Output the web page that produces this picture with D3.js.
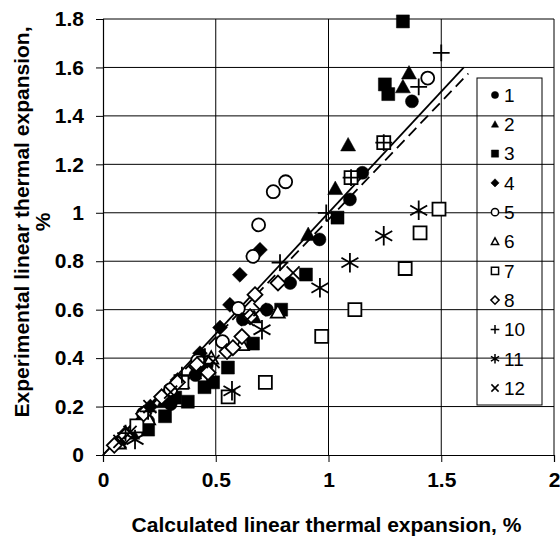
<!DOCTYPE html>
<html><head><meta charset="utf-8">
<script src="https://cdn.jsdelivr.net/npm/d3@7"></script>
<style>body{margin:0;background:#fff}svg{display:block}text{font-family:"Liberation Sans",Arial,sans-serif}</style>
</head><body><svg id="c" width="560" height="537"></svg>
<script>
const xTicks=[0,0.5,1,1.5,2];
const xTickLabels=["0","0.5","1","1.5","2"];
const yTicks=[0,0.2,0.4,0.6,0.8,1,1.2,1.4,1.6,1.8];
const yTickLabels=["0","0.2","0.4","0.6","0.8","1","1.2","1.4","1.6","1.8"];
const seriesNames=["1","2","3","4","5","6","7","8","10","11","12"];
const s1=[[0.08,0.06],[0.2,0.14],[0.3,0.21],[0.41,0.33],[0.46,0.37],[0.62,0.56],[0.727,0.6],[0.83,0.71],[0.96,0.89],[1.095,1.055],[1.15,1.165],[1.37,1.46]];
const s2=[[0.13,0.09],[0.27,0.22],[0.45,0.37],[0.67,0.57],[0.91,0.91],[1.03,1.1],[1.087,1.28],[1.33,1.52],[1.357,1.577]];
const s3=[[0.2,0.105],[0.275,0.16],[0.32,0.237],[0.376,0.22],[0.45,0.28],[0.488,0.3],[0.554,0.361],[0.665,0.46],[0.79,0.6],[0.9,0.745],[1.04,0.98],[1.25,1.53],[1.265,1.49],[1.33,1.79]];
const s4=[[0.1,0.09],[0.21,0.2],[0.33,0.31],[0.43,0.42],[0.519,0.526],[0.563,0.62],[0.607,0.744],[0.696,0.847]];
const s5=[[0.18,0.17],[0.3,0.27],[0.42,0.39],[0.53,0.468],[0.6,0.605],[0.665,0.82],[0.69,0.95],[0.755,1.087],[0.81,1.128],[1.44,1.556]];
const s6=[[0.07,0.05],[0.2,0.15],[0.35,0.3],[0.48,0.4],[0.616,0.456],[0.775,0.59]];
const s7=[[0.15,0.12],[0.35,0.3],[0.555,0.24],[0.72,0.3],[0.97,0.49],[1.117,0.6],[1.34,0.77],[1.406,0.917],[1.49,1.015],[1.1,1.145],[1.245,1.29]];
const s8=[[0.05,0.04],[0.1,0.08],[0.18,0.17],[0.26,0.24],[0.33,0.3],[0.417,0.373],[0.466,0.34],[0.55,0.427],[0.576,0.443],[0.616,0.489],[0.652,0.571],[0.674,0.662],[0.776,0.71]];
const s10=[[0.1,0.09],[0.2,0.18],[0.35,0.33],[0.452,0.406],[0.785,0.794],[0.99,1.0],[1.1,1.145],[1.245,1.29],[1.4,1.52],[1.5,1.66]];
const s11=[[0.142,0.064],[0.572,0.265],[0.705,0.517],[0.962,0.69],[1.095,0.794],[1.245,0.905],[1.4,1.01]];
const s12=[[0.075,0.056],[0.12,0.093],[0.208,0.2],[0.3,0.26],[0.408,0.34],[0.488,0.386],[0.64,0.56],[0.696,0.6],[0.843,0.752]];
const lineSolid=[[0,0],[1.6,1.6]];
const lineDashed=[[0,0],[1.62,1.575]];

const shapes=["circleF","triF","squareF","diamondF","circleO","triO","squareO","diamondO","plus","star","cross"];
const allSeries=[s1,s2,s3,s4,s5,s6,s7,s8,s10,s11,s12];

const svg=d3.select("#c");
const L=103,R=554,T=19,B=455;
const x=d3.scaleLinear().domain([0,2]).range([L,R]);
const y=d3.scaleLinear().domain([0,1.8]).range([B,T]);

// gridlines
svg.append("g").selectAll("line").data(yTicks.slice(1)).join("line")
 .attr("x1",L).attr("x2",R).attr("y1",d=>y(d)).attr("y2",d=>y(d)).attr("stroke","#000").attr("stroke-width",1);
svg.append("g").selectAll("line").data(xTicks.slice(1)).join("line")
 .attr("y1",T).attr("y2",B).attr("x1",d=>x(d)).attr("x2",d=>x(d)).attr("stroke","#000").attr("stroke-width",1);

// axes
const xa=svg.append("g").attr("transform",`translate(0,${B})`)
 .call(d3.axisBottom(x).tickValues(xTicks).tickFormat((d,i)=>xTickLabels[i]).tickSize(7).tickPadding(10));
const ya=svg.append("g").attr("transform",`translate(${L},0)`)
 .call(d3.axisLeft(y).tickValues(yTicks).tickFormat((d,i)=>yTickLabels[i]).tickSize(7).tickPadding(12));
[xa,ya].forEach(a=>{a.select(".domain").attr("stroke","#000").attr("stroke-width",1.2);
 a.selectAll(".tick line").attr("stroke","#000");
 a.selectAll("text").attr("font-size",21).attr("font-weight","bold").attr("fill","#000").attr("font-family","Liberation Sans, Arial, sans-serif");});

// reference lines
const ln=d3.line().x(d=>x(d[0])).y(d=>y(d[1]));
svg.append("path").attr("d",ln(lineSolid)).attr("stroke","#000").attr("stroke-width",1.8).attr("fill","none");
svg.append("path").attr("d",ln(lineDashed)).attr("stroke","#000").attr("stroke-width",1.8).attr("fill","none").attr("stroke-dasharray","11,6");

function shapePath(s,r){
 switch(s){
  case "circleF":case "circleO": return `M${-r},0A${r},${r} 0 1,0 ${r},0A${r},${r} 0 1,0 ${-r},0Z`;
  case "triF":case "triO": return `M0,${-r}L${r},${r*0.8}L${-r},${r*0.8}Z`;
  case "squareF":case "squareO": return `M${-r},${-r}H${r}V${r}H${-r}Z`;
  case "diamondF":case "diamondO": return `M0,${-r*1.15}L${r*1.15},0L0,${r*1.15}L${-r*1.15},0Z`;
  case "plus": return `M${-r*1.2},0H${r*1.2}M0,${-r*1.2}V${r*1.2}`;
  case "star": {const a=r*1.3,b=a*0.87,c=a*0.5;return `M0,${-a}V${a}M${-b},${-c}L${b},${c}M${-b},${c}L${b},${-c}`;}
  case "cross": return `M${-r},${-r}L${r},${r}M${-r},${r}L${r},${-r}`;
 }
}
function style(sel,s,sw){
 const filled=s.endsWith("F");
 const open=s.endsWith("O");
 sel.attr("fill",filled?"#000":(open?"#fff":"none")).attr("stroke","#000")
  .attr("stroke-width",filled?0.5:sw);
}
const rMain={circleF:6.5,triF:7.5,squareF:6.5,diamondF:6.5,circleO:6.5,triO:7,squareO:6.5,diamondO:6.5,plus:7,star:7.5,cross:6.5};
allSeries.forEach((data,i)=>{
 const s=shapes[i];
 const g=svg.append("g");
 g.selectAll("path").data(data).join("path")
  .attr("transform",d=>`translate(${x(d[0])},${y(d[1])})`)
  .attr("d",shapePath(s,rMain[s])).call(sel=>style(sel,s,1.8));
});

// legend
const lg=svg.append("g");
lg.append("rect").attr("x",477).attr("y",78).attr("width",65).attr("height",327).attr("fill","none").attr("stroke","#000").attr("stroke-width",1);
seriesNames.forEach((n,i)=>{
 const cy=95+i*29.3;
 const s=shapes[i];
 lg.append("path").attr("transform",`translate(495,${cy})`).attr("d",shapePath(s,3.6)).call(sel=>style(sel,s,1.5));
 lg.append("text").attr("x",504).attr("y",cy).attr("dy","0.36em").attr("font-size",19).text(n);
});

// titles
svg.append("text").attr("x",(L+R)/2-2).attr("y",525).attr("dy","0.35em").attr("text-anchor","middle")
 .attr("font-size",21).attr("font-weight","bold").text("Calculated linear thermal expansion, %");
const yt=svg.append("text").attr("transform","translate(22,222) rotate(-90)").attr("text-anchor","middle")
 .attr("font-size",21).attr("font-weight","bold");
yt.append("tspan").attr("x",0).attr("dy","0.35em").text("Experimental linear thermal expansion,");
yt.append("tspan").attr("x",0).attr("dy","1.0em").text("%");
</script></body></html>
